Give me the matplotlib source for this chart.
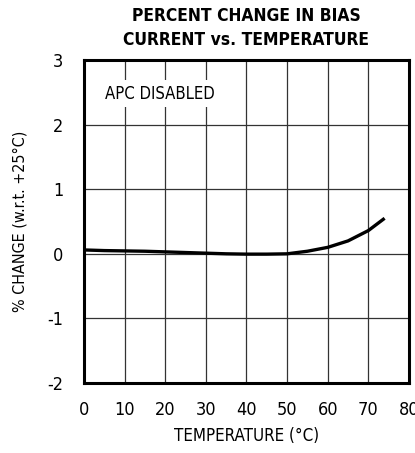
import matplotlib
matplotlib.use("Agg")
import matplotlib.pyplot as plt

# lecture du graphe : temperature (degC) et variation du courant (%)
temp = [0, 5, 10, 15, 20, 25, 30, 35, 40, 45, 50, 55, 60, 65, 70, 74]
change = [0.06, 0.05, 0.045, 0.04, 0.03, 0.02, 0.01, 0.0, -0.005, -0.005, 0.0, 0.04, 0.1, 0.2, 0.36, 0.55]

xticks = [0, 10, 20, 30, 40, 50, 60, 70, 80]
yticks = [-2, -1, 0, 1, 2, 3]

plt.rcParams['font.family'] = ['Liberation Sans Narrow', 'DejaVu Sans']
plt.rcParams['font.stretch'] = 'condensed'
plt.rcParams['axes.unicode_minus'] = False

fig = plt.figure(figsize=(4.15, 4.53), dpi=100)
ax = fig.add_axes([0.2024, 0.1545, 0.7831, 0.713])

ax.plot(temp, change, color="black", lw=2.4, solid_capstyle="butt")

ax.set_xlim(0, 80)
ax.set_ylim(-2, 3)
ax.set_xticks(xticks)
ax.set_yticks(yticks)
ax.grid(True, color="#333333", lw=0.9)
ax.tick_params(length=0, labelsize=13)
ax.tick_params(axis="x", pad=13)
ax.tick_params(axis="y", pad=15)
for s in ax.spines.values():
    s.set_linewidth(2.2)

ax.text(5.2, 2.48, "APC DISABLED", fontsize=12, va="center", ha="left",
        bbox=dict(facecolor="white", edgecolor="none", pad=3))

ax.set_xlabel("TEMPERATURE (°C)", fontsize=12.2, labelpad=6)
ax.set_ylabel("% CHANGE (w.r.t. +25°C)", fontsize=11.5, labelpad=14)
ax.set_title("PERCENT CHANGE IN BIAS\nCURRENT vs. TEMPERATURE", fontsize=12.5,
             fontweight="bold", pad=11, linespacing=1.4)

fig.savefig("out.png", dpi=100)
